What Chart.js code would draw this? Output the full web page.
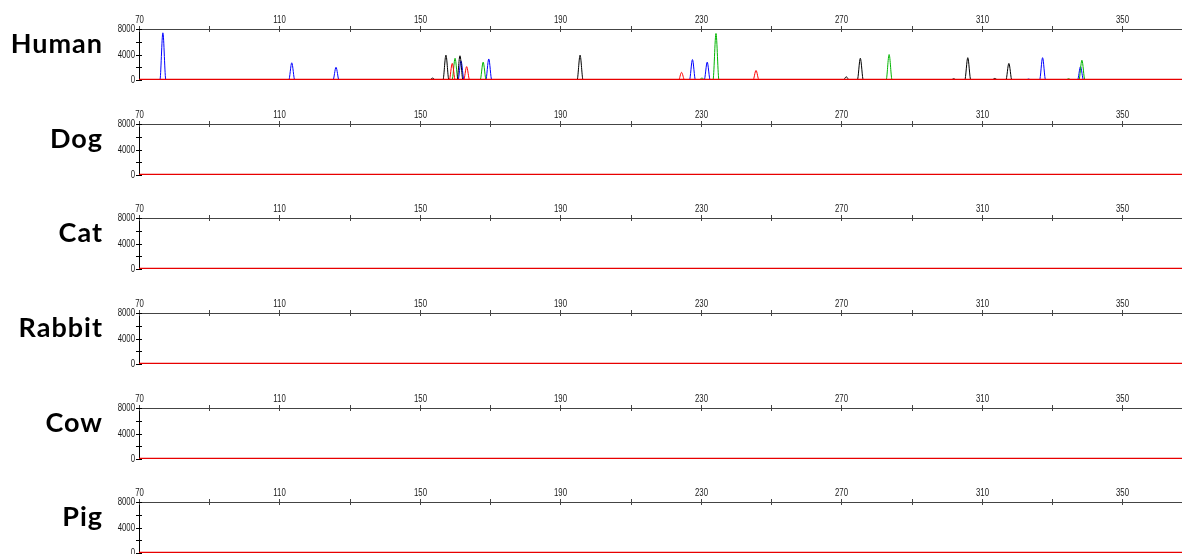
<!DOCTYPE html>
<html>
<head>
<meta charset="utf-8">
<script src="https://cdn.jsdelivr.net/npm/chart.js@4.4.1/dist/chart.umd.min.js"></script>
<style>
  body { margin: 0; width: 1182px; height: 554px; overflow: hidden; background: #fff; position: relative; }
  .panel { position: absolute; left: 0; width: 1182px; height: 95px; }
  .label { position: absolute; left: 0; width: 103px; text-align: right; font-family: Lato, "DejaVu Sans", sans-serif; font-weight: bold; font-size: 27px; line-height: 27px; letter-spacing: 1px; color: #000; }
</style>
</head>
<body>
<script>
// size range (bp) and tick marks
const sizeMin = 70;
const sizeMax = 367;
const xTicks = [70, 90, 110, 130, 150, 170, 190, 210, 230, 250, 270, 290, 310, 330, 350];
const xLabels = [70, 110, 150, 190, 230, 270, 310, 350];
const yTicks = [0, 2000, 4000, 6000, 8000];
const yLabels = [0, 4000, 8000];

const species = ["Human", "Dog", "Cat", "Rabbit", "Cow", "Pig"];

// peak apexes [size bp, height RFU]
const humanBlue = [[76.8, 7400], [113.5, 2700], [126.1, 2000], [161.7, 3000], [169.6, 3300], [227.6, 3200], [231.8, 2800], [323.3, 150], [327.3, 3500], [338.1, 2100]];
const humanGreen = [[160.0, 3400], [168.0, 2800], [230.3, 300], [234.3, 7300], [283.6, 4000], [334.7, 200], [338.5, 3100]];
const humanBlack = [[153.6, 300], [157.4, 3900], [161.4, 3800], [195.6, 3900], [271.4, 500], [275.4, 3400], [302.0, 200], [306.0, 3500], [313.7, 250], [317.7, 2600]];
const humanRed = [[159.2, 2600], [163.3, 2100], [224.5, 1200], [245.7, 1500]];

// the other species show no peaks
const noPeaks = [];

const peakHalfWidth = 0.85;

function trace(peaks) {
  const pts = [{ x: sizeMin, y: 0 }];
  peaks.forEach(([x, h]) => {
    pts.push({ x: x - peakHalfWidth, y: 0 });
    pts.push({ x: x, y: h });
    pts.push({ x: x + peakHalfWidth, y: 0 });
  });
  pts.push({ x: sizeMax, y: 0 });
  return pts;
}

const peaksBySpecies = {
  Human: { red: humanRed, blue: humanBlue, green: humanGreen, black: humanBlack },
};

// axis ticks crossing the axis line, with narrow tick labels
const axisMarks = {
  id: "axisMarks",
  afterDraw(chart) {
    const { ctx, chartArea } = chart;
    const xs = chart.scales.x, ys = chart.scales.y;
    ctx.save();
    ctx.lineWidth = 1;
    ctx.font = "10px 'Liberation Sans', Arial, sans-serif";
    ctx.fillStyle = "#1a1a1a";
    ctx.textBaseline = "middle";
    ctx.strokeStyle = "#444";
    xTicks.forEach((v) => {
      const px = Math.round(xs.getPixelForValue(v)) + 0.5;
      ctx.beginPath();
      ctx.moveTo(px, chartArea.top - 3);
      ctx.lineTo(px, chartArea.top + 3);
      ctx.stroke();
      if (xLabels.includes(v)) {
        ctx.save();
        ctx.translate(px, chartArea.top - 9);
        ctx.scale(0.78, 1);
        ctx.textAlign = "center";
        ctx.fillText(String(v), 0, 0);
        ctx.restore();
      }
    });
    ctx.strokeStyle = "#000";
    yTicks.forEach((v) => {
      const py = Math.round(ys.getPixelForValue(v)) + 0.5;
      ctx.beginPath();
      ctx.moveTo(chartArea.left - 3, py);
      ctx.lineTo(chartArea.left + 3, py);
      ctx.stroke();
      if (yLabels.includes(v)) {
        ctx.save();
        ctx.translate(chartArea.left - 4, py);
        ctx.scale(0.78, 1);
        ctx.textAlign = "right";
        ctx.fillText(String(v), 0, 0);
        ctx.restore();
      }
    });
    ctx.restore();
  },
};

const panelStep = 94.66;

species.forEach((name, i) => {
  const div = document.createElement("div");
  div.className = "panel";
  div.style.top = (i * panelStep) + "px";
  const canvas = document.createElement("canvas");
  canvas.width = 1182;
  canvas.height = 95;
  div.appendChild(canvas);
  const lab = document.createElement("div");
  lab.className = "label";
  lab.textContent = name;
  lab.style.top = "29px";
  div.appendChild(lab);
  document.body.appendChild(div);

  const p = peaksBySpecies[name] || { red: noPeaks, blue: noPeaks, green: noPeaks, black: noPeaks };
  const ds = (data, color, width) => ({
    data: trace(data),
    borderColor: color,
    borderWidth: width,
    pointRadius: 0,
    showLine: true,
    cubicInterpolationMode: "monotone",
  });

  new Chart(canvas.getContext("2d"), {
    type: "scatter",
    data: {
      datasets: [
        ds(noPeaks, "#e80000", 2.5),
        ds(p.red, "#ff0000", 1),
        ds(p.black, "#000000", 1),
        ds(p.green, "#00b400", 1),
        ds(p.blue, "#0000ff", 1),
      ],
    },
    options: {
      responsive: false,
      animation: false,
      events: [],
      layout: { padding: { top: 0, right: 0, bottom: 15, left: 0 } },
      plugins: { legend: { display: false }, tooltip: { enabled: false } },
      scales: {
        x: {
          type: "linear",
          position: "top",
          min: sizeMin,
          max: sizeMax,
          afterBuildTicks: (s) => { s.ticks = xTicks.map((v) => ({ value: v })); },
          afterFit: (s) => { s.height = 29; },
          grid: { display: false, drawTicks: false },
          border: { display: true, color: "#444", width: 1 },
          ticks: { display: false },
        },
        y: {
          type: "linear",
          min: 0,
          max: 8000,
          afterBuildTicks: (s) => { s.ticks = yTicks.map((v) => ({ value: v })); },
          afterFit: (s) => { s.width = 139; },
          grid: { display: false, drawTicks: false },
          border: { display: true, color: "#000", width: 1 },
          ticks: { display: false },
        },
      },
    },
    plugins: [axisMarks],
  });
});
</script>
</body>
</html>
